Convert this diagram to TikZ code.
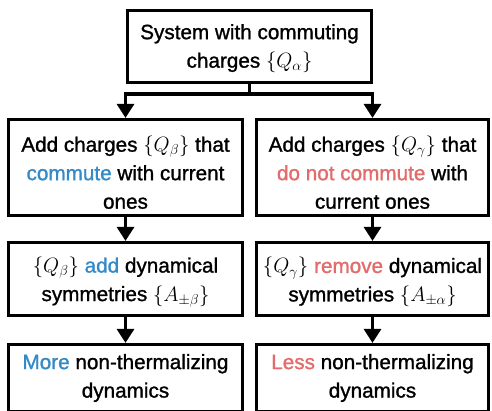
\documentclass[tikz,border=0pt]{standalone}
\usepackage{fontspec}
\setmainfont{Liberation Sans}[BoldFont={Liberation Sans},BoldFeatures={FakeBold=1.2}]
\usetikzlibrary{arrows.meta}
\definecolor{cblue}{RGB}{52,138,199}
\definecolor{cred}{RGB}{226,107,107}
\newcommand{\mq}[1]{{\fontsize{21.5}{28}\selectfont$#1$}}
\begin{document}
\begin{tikzpicture}[x=1pt,y=1pt,
  box/.style={draw=black, line width=3.2pt, inner sep=0pt},
  txt/.style={align=center, inner sep=0pt,
    font=\fontsize{20.7}{28.5}\selectfont\bfseries},
  link/.style={line width=3.2pt, line join=miter},
  arr/.style={link, -{Triangle[length=14pt,width=17pt]}}]
\useasboundingbox (0,0) rectangle (492,-411);
\clip (0,0) rectangle (492,-411);
% boxes
\node[box, minimum width=244pt, minimum height=72pt] (top) at (249.5,-46.5) {};
\node[box, minimum width=234pt, minimum height=96pt] (L1) at (125.5,-167.5) {};
\node[box, minimum width=232pt, minimum height=96pt] (R1) at (372.5,-167.5) {};
\node[box, minimum width=234pt, minimum height=73pt] (L2) at (125.5,-279) {};
\node[box, minimum width=232pt, minimum height=73pt] (R2) at (372.5,-279) {};
\node[box, minimum width=234pt, minimum height=67pt] (L3) at (125.5,-378) {};
\node[box, minimum width=232pt, minimum height=67pt] (R3) at (372.5,-378) {};
% texts
\node[txt] (topT) at ([yshift=-2pt]top.center)
  {System with commuting\\charges \mq{\{Q_\alpha\}}};
\node[txt] (L1T) at ([yshift=-5pt]L1.center)
  {Add charges \mq{\{Q_\beta\}} that\\{\color{cblue}commute} with current\\ones};
\node[txt] (R1T) at ([yshift=-5pt]R1.center)
  {Add charges \mq{\{Q_\gamma\}} that\\{\color{cred}do not commute} with\\current ones};
\node[txt] (L2T) at ([yshift=-3pt]L2.center)
  {\mq{\{Q_\beta\}} {\color{cblue}add} dynamical\\symmetries \mq{\{A_{\pm\beta}\}}};
\node[txt] (R2T) at ([yshift=-3pt]R2.center)
  {\mq{\{Q_\gamma\}} {\color{cred}remove} dynamical\\symmetries \mq{\{A_{\pm\alpha}\}}};
\node[txt] (L3T) at ([yshift=0pt]L3.center)
  {{\color{cblue}More} non-thermalizing\\dynamics};
\node[txt] (R3T) at ([yshift=0pt]R3.center)
  {{\color{cred}Less} non-thermalizing\\dynamics};
% connectors
\coordinate (split) at (249.5,-94);
\draw[link] (top.south) -- (split);
\draw[arr] (split) -| (L1.north);
\draw[arr] (split) -| (R1.north);
\draw[arr] (L1.south) -- (L2.north);
\draw[arr] (R1.south) -- (R2.north);
\draw[arr] (L2.south) -- (L3.north);
\draw[arr] (R2.south) -- (R3.north);
\end{tikzpicture}
\end{document}
